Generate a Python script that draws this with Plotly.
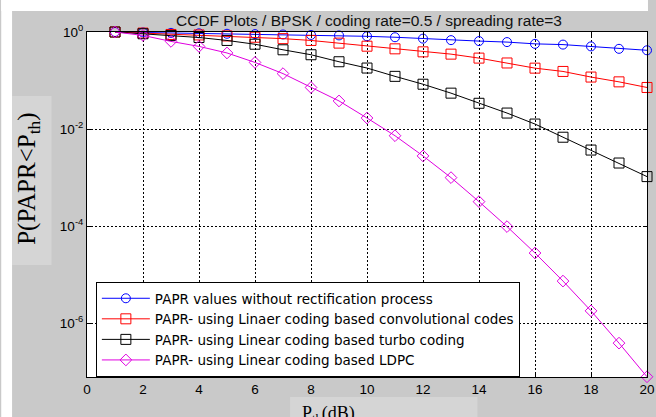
import plotly.graph_objects as go

# ---- data ----
pth_db = list(range(1, 21))

papr_plain = [1.0, 0.98, 0.96, 0.94, 0.92, 0.905, 0.89, 0.87, 0.85, 0.815,
              0.78, 0.73, 0.68, 0.65, 0.62, 0.57, 0.55, 0.505, 0.45, 0.42]
papr_conv = [1.0, 0.95, 0.89, 0.87, 0.83, 0.78, 0.73, 0.67, 0.59, 0.51,
             0.45, 0.39, 0.35, 0.29, 0.23, 0.18, 0.154, 0.118, 0.094, 0.072]
papr_turbo = [1.0, 0.92, 0.85, 0.77, 0.67, 0.56, 0.43, 0.34, 0.244, 0.181,
              0.122, 0.084, 0.055, 0.034, 0.0214, 0.0127, 0.0068, 0.0037, 0.0020, 0.00105]
papr_ldpc = [1.0, 0.85, 0.64, 0.505, 0.37, 0.236, 0.139, 0.072, 0.038, 0.0169,
             0.0073, 0.0028, 0.001, 3.2e-4, 9.8e-5, 2.8e-5, 7.4e-6, 1.8e-6, 3.9e-7, 7.9e-8]

series_names = [
    "PAPR values without rectification process",
    "PAPR- using Linaer coding based convolutional codes",
    "PAPR- using Linear coding based turbo coding",
    "PAPR- using Linear coding based LDPC",
]
series_values = [papr_plain, papr_conv, papr_turbo, papr_ldpc]
series_colors = ["#0000ff", "#ff0000", "#000000", "#e000e0"]
series_symbols = ["circle-open", "square-open", "square-open", "diamond-open"]
series_sizes = [9, 10, 10, 9]

x_ticks = list(range(0, 21, 2))
y_tickvals = [1, 1e-2, 1e-4, 1e-6]
y_ticktext = ["10<sup>0</sup>", "10<sup>-2</sup>", "10<sup>-4</sup>", "10<sup>-6</sup>"]

title_text = "CCDF Plots / BPSK / coding rate=0.5 / spreading rate=3"

# ---- figure ----
W, H = 656, 417
L, R, T, B = 87, 1, 32, 40
pw, ph = W - L - R, H - T - B


def px_x(px):
    return (px - L) / pw


def px_y(py):
    return (H - B - py) / ph


fig = go.Figure()
for name, vals, col, sym, sz in zip(series_names, series_values, series_colors,
                                    series_symbols, series_sizes):
    fig.add_trace(go.Scatter(
        x=pth_db, y=vals, name=name, mode="lines+markers",
        line=dict(color=col, width=1),
        marker=dict(symbol=sym, size=sz, color=col, line=dict(width=1, color=col)),
        cliponaxis=False,
    ))

bg_gray = "#c9c9c9"
light_gray = "#d5d5d5"
shapes = [
    dict(type="rect", xref="paper", yref="paper", x0=px_x(0), x1=px_x(W),
         y0=px_y(11), y1=px_y(0), fillcolor="white", line=dict(width=0), layer="below"),
    dict(type="rect", xref="paper", yref="paper", x0=px_x(0), x1=px_x(11),
         y0=px_y(H), y1=px_y(0), fillcolor="white", line=dict(width=0), layer="below"),
    dict(type="rect", xref="paper", yref="paper", x0=px_x(11), x1=px_x(51),
         y0=px_y(265), y1=px_y(96), fillcolor=light_gray, line=dict(width=0), layer="below"),
    dict(type="rect", xref="paper", yref="paper", x0=px_x(293), x1=px_x(483),
         y0=px_y(H), y1=px_y(397), fillcolor=light_gray, line=dict(width=0), layer="below"),
]

annotations = [
    dict(text=title_text, xref="paper", yref="paper", x=px_x(373), y=px_y(20.5),
         xanchor="center", yanchor="middle", showarrow=False,
         font=dict(family="Liberation Sans", size=15.5, color="#111111")),
    dict(text="P(PAPR&lt;P<sub>th</sub>)", xref="paper", yref="paper",
         x=px_x(27), y=px_y(179), xanchor="center", yanchor="middle", textangle=-90,
         showarrow=False, font=dict(family="Liberation Serif", size=25, color="black")),
    dict(text="P<sub>th</sub>(dB)", xref="paper", yref="paper",
         x=px_x(332), y=px_y(401), xanchor="center", yanchor="top",
         showarrow=False, font=dict(family="Liberation Serif", size=18, color="black")),
]

axis_common = dict(
    showline=True, linecolor="black", linewidth=1, mirror="ticks",
    ticks="inside", ticklen=4, tickcolor="black",
    showgrid=True, gridcolor="black", gridwidth=1, griddash="2px,2px",
    zeroline=False, ticklabeloverflow="allow",
    tickfont=dict(family="Liberation Sans", size=13.5, color="black"),
)

fig.update_layout(
    width=W, height=H,
    margin=dict(l=L, r=R, t=T, b=B, pad=0),
    paper_bgcolor=bg_gray, plot_bgcolor="white",
    showlegend=True,
    legend=dict(x=px_x(96), y=px_y(282), xanchor="left", yanchor="top",
                bgcolor="white", bordercolor="black", borderwidth=1,
                font=dict(family="DejaVu Sans", size=13.5, color="black"),
                itemwidth=48, tracegroupgap=0),
    shapes=shapes,
    annotations=annotations,
    xaxis=dict(range=[0, 20], tickvals=x_ticks, **axis_common),
    yaxis=dict(type="log", range=[-7.107, 0], tickvals=y_tickvals, ticktext=y_ticktext,
               **axis_common),
)

fig.write_html("out.html")
